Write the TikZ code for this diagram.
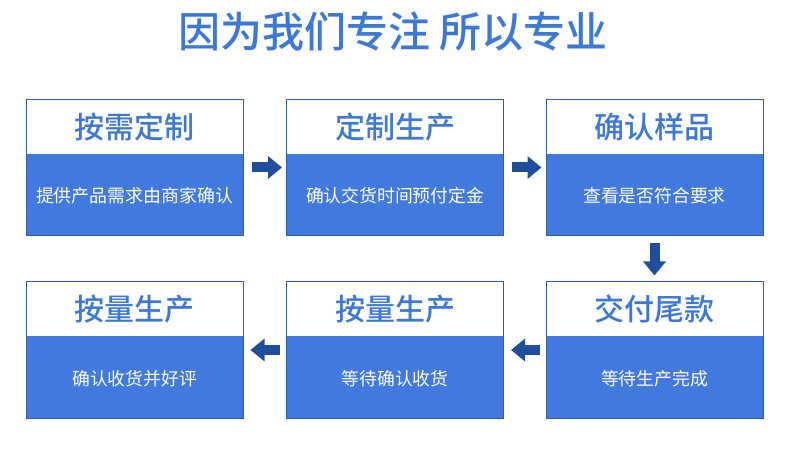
\documentclass[tikz,border=0pt]{standalone}
\usepackage{fontspec}
\setmainfont{Noto Sans CJK SC}
\newfontfamily\medfont{Noto Sans CJK SC Medium}
\usetikzlibrary{arrows.meta,positioning}
\definecolor{titleblue}{HTML}{3C78D8}
\definecolor{cardblue}{HTML}{4279DE}
\definecolor{cardedge}{HTML}{2E5AA8}
\definecolor{arrowblue}{HTML}{1F4E9C}

\begin{document}
\begin{tikzpicture}[x=1pt, y=-1pt,
        card/.style={draw=cardedge, fill=cardblue, line width=1pt, minimum width=217pt, minimum height=136pt, inner sep=0pt},
        head/.style={fill=white, minimum width=216pt, minimum height=54pt, inner sep=0pt, text=titleblue, font=\medfont\fontsize{30}{30}\selectfont},
        body/.style={text=white, inner sep=0pt},
        flow/.style={draw=arrowblue, line width=10pt, -{Triangle[width=22pt,length=14pt]}}]
        \useasboundingbox (0,0) rectangle (790,454);
        \node[text=titleblue, font=\medfont\fontsize{42}{42}\selectfont] (title) at (393,32) {因为我们专注 所以专业};
        \foreach \n/\x/\y/\t/\b/\s in {c1/134.5/167.5/按需定制/提供产品需求由商家确认/17.9,
                                   c2/395/167.5/定制生产/确认交货时间预付定金/17.8,
                                   c3/654.5/167.5/确认样品/查看是否符合要求/17.8,
                                   c4/654.5/350/交付尾款/等待生产完成/17.8,
                                   c5/395/350/按量生产/等待确认收货/17.8,
                                   c6/134.5/350/按量生产/确认收货并好评/17.8}{
          \node[card] (\n) at (\x,\y) {};
          \node[head, below=0.5pt of \n.north] (\n-head) {\raisebox{-4pt}{\t}};
          \node[body, font=\fontsize{\s}{\s}\selectfont] (\n-body) at ([yshift=40pt]\n.south) {\b};
        }
        \draw[flow, shorten <=8pt, shorten >=4pt] (c1.east) -- (c2.west);
        \draw[flow, shorten <=8pt, shorten >=4pt] (c2.east) -- (c3.west);
        \draw[flow, shorten <=7pt, shorten >=6pt] (c3.south) -- (c4.north);
        \draw[flow, shorten <=6pt, shorten >=7pt] (c4.west) -- (c5.east);
        \draw[flow, shorten <=6pt, shorten >=7pt] (c5.west) -- (c6.east);
      \end{tikzpicture}
\end{document}
